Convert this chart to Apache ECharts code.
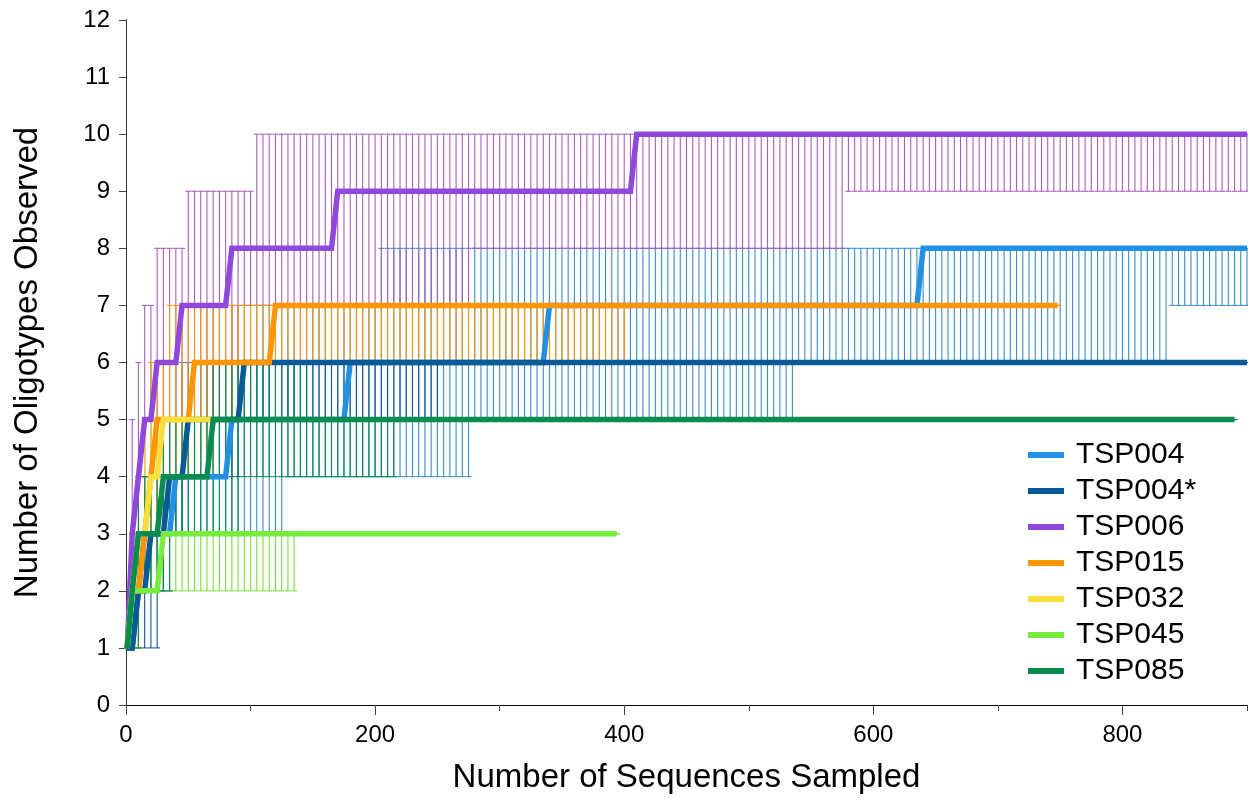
<!DOCTYPE html>
<html><head><meta charset="utf-8">
<script src="https://cdn.jsdelivr.net/npm/echarts@6/dist/echarts.min.js"></script>
<style>html,body{margin:0;padding:0;background:#fff}#c{width:1248px;height:805px}</style>
</head><body><div id="c"></div>
<script>
// Number of sequences sampled at each rarefaction step
const sampleX = [1,
5,10,15,20,25,30,35,40,45,50,55,60,65,70,75,80,85,90,95,100,
105,110,115,120,125,130,135,140,145,150,155,160,165,170,175,180,185,190,195,200,
205,210,215,220,225,230,235,240,245,250,255,260,265,270,275,280,285,290,295,300,
305,310,315,320,325,330,335,340,345,350,355,360,365,370,375,380,385,390,395,400,
405,410,415,420,425,430,435,440,445,450,455,460,465,470,475,480,485,490,495,500,
505,510,515,520,525,530,535,540,545,550,555,560,565,570,575,580,585,590,595,600,
605,610,615,620,625,630,635,640,645,650,655,660,665,670,675,680,685,690,695,700,
705,710,715,720,725,730,735,740,745,750,755,760,765,770,775,780,785,790,795,800,
805,810,815,820,825,830,835,840,845,850,855,860,865,870,875,880,885,890,895,900];

const seriesNames = ['TSP004','TSP004*','TSP006','TSP015','TSP032','TSP045','TSP085'];
const xTicks = [0,200,400,600,800];
const yTicks = [0,1,2,3,4,5,6,7,8,9,10,11,12];

// TSP004
const tsp004Mean = [1,
1,2,3,3,3,3,3,4,4,4,4,4,4,4,4,4,5,5,5,5,
5,5,5,5,5,5,5,5,5,5,5,5,5,5,5,6,6,6,6,6,
6,6,6,6,6,6,6,6,6,6,6,6,6,6,6,6,6,6,6,6,
6,6,6,6,6,6,6,7,7,7,7,7,7,7,7,7,7,7,7,7,
7,7,7,7,7,7,7,7,7,7,7,7,7,7,7,7,7,7,7,7,
7,7,7,7,7,7,7,7,7,7,7,7,7,7,7,7,7,7,7,7,
7,7,7,7,7,7,7,8,8,8,8,8,8,8,8,8,8,8,8,8,
8,8,8,8,8,8,8,8,8,8,8,8,8,8,8,8,8,8,8,8,
8,8,8,8,8,8,8,8,8,8,8,8,8,8,8,8,8,8,8,8];
const tsp004Lo = [1,
1,1,2,2,2,2,2,3,3,3,3,3,3,3,3,3,3,3,3,3,
3,3,3,3,3,4,4,4,4,4,4,4,4,4,4,4,4,4,4,4,
4,4,4,4,4,4,4,4,4,4,4,4,4,4,4,5,5,5,5,5,
5,5,5,5,5,5,5,5,5,5,5,5,5,5,5,5,5,5,5,5,
5,5,5,5,5,5,5,5,5,5,5,5,5,5,5,5,5,5,5,5,
5,5,5,5,5,5,5,6,6,6,6,6,6,6,6,6,6,6,6,6,
6,6,6,6,6,6,6,6,6,6,6,6,6,6,6,6,6,6,6,6,
6,6,6,6,6,6,6,6,6,6,6,6,6,6,6,6,6,6,6,6,
6,6,6,6,6,6,6,7,7,7,7,7,7,7,7,7,7,7,7,7];
const tsp004Hi = [1,
2,3,4,4,5,5,5,6,6,6,6,6,6,6,6,6,7,7,7,7,
7,7,7,7,7,7,7,7,7,7,7,7,7,7,7,7,7,7,7,7,
8,8,8,8,8,8,8,8,8,8,8,8,8,8,8,8,8,8,8,8,
8,8,8,8,8,8,8,8,8,8,8,8,8,8,8,8,8,8,8,8,
8,8,8,8,8,8,8,8,8,8,8,8,8,8,8,8,8,8,8,8,
8,8,8,8,8,8,8,8,8,8,8,8,8,8,8,8,8,8,8,8,
8,8,8,8,8,8,8,8,8,8,8,8,8,8,8,8,8,8,8,8,
8,8,8,8,8,8,8,8,8,8,8,8,8,8,8,8,8,8,8,8,
8,8,8,8,8,8,8,8,8,8,8,8,8,8,8,8,8,8,8,8];

// TSP004*
const tsp004sMean = [1,
1,2,2,3,3,3,4,4,4,5,5,5,5,5,5,5,5,5,6,6,
6,6,6,6,6,6,6,6,6,6,6,6,6,6,6,6,6,6,6,6,
6,6,6,6,6,6,6,6,6,6,6,6,6,6,6,6,6,6,6,6,
6,6,6,6,6,6,6,6,6,6,6,6,6,6,6,6,6,6,6,6,
6,6,6,6,6,6,6,6,6,6,6,6,6,6,6,6,6,6,6,6,
6,6,6,6,6,6,6,6,6,6,6,6,6,6,6,6,6,6,6,6,
6,6,6,6,6,6,6,6,6,6,6,6,6,6,6,6,6,6,6,6,
6,6,6,6,6,6,6,6,6,6,6,6,6,6,6,6,6,6,6,6,
6,6,6,6,6,6,6,6,6,6,6,6,6,6,6,6,6,6,6,6];
const tsp004sLo = [1,
1,1,1,1,1,2,3,3,3,4,4,4,4,4,4,4,4,4,5,5,
5,5,5,5,5,5,5,5,5,5,5,5,5,5,5,5,5,5,5,5,
5,5,5,5,5,5,5,5,5,5,6,6,6,6,6,6,6,6,6,6,
6,6,6,6,6,6,6,6,6,6,6,6,6,6,6,6,6,6,6,6,
6,6,6,6,6,6,6,6,6,6,6,6,6,6,6,6,6,6,6,6,
6,6,6,6,6,6,6,6,6,6,6,6,6,6,6,6,6,6,6,6,
6,6,6,6,6,6,6,6,6,6,6,6,6,6,6,6,6,6,6,6,
6,6,6,6,6,6,6,6,6,6,6,6,6,6,6,6,6,6,6,6,
6,6,6,6,6,6,6,6,6,6,6,6,6,6,6,6,6,6,6,6];
const tsp004sHi = [1,
2,3,4,4,4,4,5,5,5,6,6,6,6,6,6,6,6,6,6,6,
6,6,6,6,6,6,6,6,6,6,6,6,6,6,6,6,6,6,6,6,
6,6,6,6,6,6,6,6,6,6,6,6,6,6,6,6,6,6,6,6,
6,6,6,6,6,6,6,6,6,6,6,6,6,6,6,6,6,6,6,6,
6,6,6,6,6,6,6,6,6,6,6,6,6,6,6,6,6,6,6,6,
6,6,6,6,6,6,6,6,6,6,6,6,6,6,6,6,6,6,6,6,
6,6,6,6,6,6,6,6,6,6,6,6,6,6,6,6,6,6,6,6,
6,6,6,6,6,6,6,6,6,6,6,6,6,6,6,6,6,6,6,6,
6,6,6,6,6,6,6,6,6,6,6,6,6,6,6,6,6,6,6,6];

// TSP006
const tsp006Mean = [1,
3,4,5,5,6,6,6,6,7,7,7,7,7,7,7,7,8,8,8,8,
8,8,8,8,8,8,8,8,8,8,8,8,8,9,9,9,9,9,9,9,
9,9,9,9,9,9,9,9,9,9,9,9,9,9,9,9,9,9,9,9,
9,9,9,9,9,9,9,9,9,9,9,9,9,9,9,9,9,9,9,9,
9,10,10,10,10,10,10,10,10,10,10,10,10,10,10,10,10,10,10,10,
10,10,10,10,10,10,10,10,10,10,10,10,10,10,10,10,10,10,10,10,
10,10,10,10,10,10,10,10,10,10,10,10,10,10,10,10,10,10,10,10,
10,10,10,10,10,10,10,10,10,10,10,10,10,10,10,10,10,10,10,10,
10,10,10,10,10,10,10,10,10,10,10,10,10,10,10,10,10,10,10,10];
const tsp006Lo = [1,
2,3,4,4,5,5,5,5,5,6,6,6,6,6,6,6,6,6,7,7,
7,7,7,7,7,7,7,7,7,7,7,7,7,7,7,7,7,7,7,7,
7,7,7,7,7,7,7,7,7,7,7,7,7,7,7,8,8,8,8,8,
8,8,8,8,8,8,8,8,8,8,8,8,8,8,8,8,8,8,8,8,
8,8,8,8,8,8,8,8,8,8,8,8,8,8,8,8,8,8,8,8,
8,8,8,8,8,8,8,8,8,8,8,8,8,8,8,9,9,9,9,9,
9,9,9,9,9,9,9,9,9,9,9,9,9,9,9,9,9,9,9,9,
9,9,9,9,9,9,9,9,9,9,9,9,9,9,9,9,9,9,9,9,
9,9,9,9,9,9,9,9,9,9,9,9,9,9,9,9,9,9,9,9];
const tsp006Hi = [1,
5,6,7,7,8,8,8,8,8,9,9,9,9,9,9,9,9,9,9,9,
10,10,10,10,10,10,10,10,10,10,10,10,10,10,10,10,10,10,10,10,
10,10,10,10,10,10,10,10,10,10,10,10,10,10,10,10,10,10,10,10,
10,10,10,10,10,10,10,10,10,10,10,10,10,10,10,10,10,10,10,10,
10,10,10,10,10,10,10,10,10,10,10,10,10,10,10,10,10,10,10,10,
10,10,10,10,10,10,10,10,10,10,10,10,10,10,10,10,10,10,10,10,
10,10,10,10,10,10,10,10,10,10,10,10,10,10,10,10,10,10,10,10,
10,10,10,10,10,10,10,10,10,10,10,10,10,10,10,10,10,10,10,10,
10,10,10,10,10,10,10,10,10,10,10,10,10,10,10,10,10,10,10,10];

// TSP015 (last value is at the sample's full depth)
const tsp015Depth = 748;
const tsp015Mean = [1,
2,2,3,4,5,5,5,5,5,5,6,6,6,6,6,6,6,6,6,6,
6,6,6,7,7,7,7,7,7,7,7,7,7,7,7,7,7,7,7,7,
7,7,7,7,7,7,7,7,7,7,7,7,7,7,7,7,7,7,7,7,
7,7,7,7,7,7,7,7,7,7,7,7,7,7,7,7,7,7,7,7,
7,7,7,7,7,7,7,7,7,7,7,7,7,7,7,7,7,7,7,7,
7,7,7,7,7,7,7,7,7,7,7,7,7,7,7,7,7,7,7,7,
7,7,7,7,7,7,7,7,7,7,7,7,7,7,7,7,7,7,7,7,
7,7,7,7,7,7,7,7,7,7];
const tsp015Lo = [1,
1,1,2,3,3,3,4,4,4,4,5,5,5,5,5,5,5,6,6,6,
6,6,6,6,6,6,6,6,6,6,6,6,6,6,6,6,6,6,6,6,
6,6,6,6,6,6,6,6,6,6,6,6,6,6,6,6,6,6,6,6,
6,6,6,6,6,6,6,6,6,6,6,6,6,6,6,6,6,6,6,6,
7,7,7,7,7,7,7,7,7,7,7,7,7,7,7,7,7,7,7,7,
7,7,7,7,7,7,7,7,7,7,7,7,7,7,7,7,7,7,7,7,
7,7,7,7,7,7,7,7,7,7,7,7,7,7,7,7,7,7,7,7,
7,7,7,7,7,7,7,7,7,7];
const tsp015Hi = [1,
3,4,5,6,6,6,7,7,7,7,7,7,7,7,7,7,7,7,7,7,
7,7,7,7,7,7,7,7,7,7,7,7,7,7,7,7,7,7,7,7,
7,7,7,7,7,7,7,7,7,7,7,7,7,7,7,7,7,7,7,7,
7,7,7,7,7,7,7,7,7,7,7,7,7,7,7,7,7,7,7,7,
7,7,7,7,7,7,7,7,7,7,7,7,7,7,7,7,7,7,7,7,
7,7,7,7,7,7,7,7,7,7,7,7,7,7,7,7,7,7,7,7,
7,7,7,7,7,7,7,7,7,7,7,7,7,7,7,7,7,7,7,7,
7,7,7,7,7,7,7,7,7,7];

// TSP032
const tsp032Mean = [1,2,3,3,4,4,5,5,5,5,5,5,5,5,5];
const tsp032Lo   = [1,1,2,2,3,3,4,4,4,4,4,4,4,4,4];
const tsp032Hi   = [1,3,4,5,5,5,5,5,5,5,5,5,5,5,5];

// TSP045 (last value is at the sample's full depth)
const tsp045Depth = 394;
const tsp045Mean = [1,
2,2,2,2,2,3,3,3,3,3,3,3,3,3,3,3,3,3,3,3,
3,3,3,3,3,3,3,3,3,3,3,3,3,3,3,3,3,3,3,3,
3,3,3,3,3,3,3,3,3,3,3,3,3,3,3,3,3,3,3,3,
3,3,3,3,3,3,3,3,3,3,3,3,3,3,3,3,3,3,3];
const tsp045Lo = [1,
1,1,2,2,2,2,2,2,2,2,2,2,2,2,2,2,2,2,2,2,
2,2,2,2,2,2,2,3,3,3,3,3,3,3,3,3,3,3,3,3,
3,3,3,3,3,3,3,3,3,3,3,3,3,3,3,3,3,3,3,3,
3,3,3,3,3,3,3,3,3,3,3,3,3,3,3,3,3,3,3];
const tsp045Hi = [1,
2,3,3,3,3,3,3,3,3,3,3,3,3,3,3,3,3,3,3,3,
3,3,3,3,3,3,3,3,3,3,3,3,3,3,3,3,3,3,3,3,
3,3,3,3,3,3,3,3,3,3,3,3,3,3,3,3,3,3,3,3,
3,3,3,3,3,3,3,3,3,3,3,3,3,3,3,3,3,3,3];

// TSP085
const tsp085Mean = [1,
2,3,3,3,3,4,4,4,4,4,4,4,4,5,5,5,5,5,5,5,
5,5,5,5,5,5,5,5,5,5,5,5,5,5,5,5,5,5,5,5,
5,5,5,5,5,5,5,5,5,5,5,5,5,5,5,5,5,5,5,5,
5,5,5,5,5,5,5,5,5,5,5,5,5,5,5,5,5,5,5,5,
5,5,5,5,5,5,5,5,5,5,5,5,5,5,5,5,5,5,5,5,
5,5,5,5,5,5,5,5,5,5,5,5,5,5,5,5,5,5,5,5,
5,5,5,5,5,5,5,5,5,5,5,5,5,5,5,5,5,5,5,5,
5,5,5,5,5,5,5,5,5,5,5,5,5,5,5,5,5,5,5,5,
5,5,5,5,5,5,5,5,5,5,5,5,5,5,5,5,5,5];
const tsp085Lo = [1,
1,1,2,2,2,2,2,3,3,3,3,3,3,3,3,3,3,3,4,4,
4,4,4,4,4,4,4,4,4,4,4,4,4,4,4,4,4,4,4,4,
4,4,4,5,5,5,5,5,5,5,5,5,5,5,5,5,5,5,5,5,
5,5,5,5,5,5,5,5,5,5,5,5,5,5,5,5,5,5,5,5,
5,5,5,5,5,5,5,5,5,5,5,5,5,5,5,5,5,5,5,5,
5,5,5,5,5,5,5,5,5,5,5,5,5,5,5,5,5,5,5,5,
5,5,5,5,5,5,5,5,5,5,5,5,5,5,5,5,5,5,5,5,
5,5,5,5,5,5,5,5,5,5,5,5,5,5,5,5,5,5,5,5,
5,5,5,5,5,5,5,5,5,5,5,5,5,5,5,5,5,5];
const tsp085Hi = [1,
3,4,4,4,4,5,5,5,5,5,5,5,5,6,6,6,6,6,6,6,
6,6,6,6,6,6,6,6,6,5,5,5,5,5,5,5,5,5,5,5,
5,5,5,5,5,5,5,5,5,5,5,5,5,5,5,5,5,5,5,5,
5,5,5,5,5,5,5,5,5,5,5,5,5,5,5,5,5,5,5,5,
5,5,5,5,5,5,5,5,5,5,5,5,5,5,5,5,5,5,5,5,
5,5,5,5,5,5,5,5,5,5,5,5,5,5,5,5,5,5,5,5,
5,5,5,5,5,5,5,5,5,5,5,5,5,5,5,5,5,5,5,5,
5,5,5,5,5,5,5,5,5,5,5,5,5,5,5,5,5,5,5,5,
5,5,5,5,5,5,5,5,5,5,5,5,5,5,5,5,5,5];

const lineColors = ['#2290e6','#0b5a98','#8f47dc','#ff9500','#f8df3c','#78ec3c','#0a8c4e'];
const barColors  = ['#3a8cc9','#145497','#a95ebf','#ff9800','#f2d63a','#78e03a','#058a4e'];

const groups = [
  {mean: tsp004Mean,  lo: tsp004Lo,  hi: tsp004Hi,  depth: null},
  {mean: tsp004sMean, lo: tsp004sLo, hi: tsp004sHi, depth: null},
  {mean: tsp006Mean,  lo: tsp006Lo,  hi: tsp006Hi,  depth: null},
  {mean: tsp015Mean,  lo: tsp015Lo,  hi: tsp015Hi,  depth: tsp015Depth},
  {mean: tsp032Mean,  lo: tsp032Lo,  hi: tsp032Hi,  depth: null},
  {mean: tsp045Mean,  lo: tsp045Lo,  hi: tsp045Hi,  depth: tsp045Depth},
  {mean: tsp085Mean,  lo: tsp085Lo,  hi: tsp085Hi,  depth: null}
];

function xsFor(n, depth) {
  return depth ? sampleX.slice(0, n - 1).concat([depth]) : sampleX.slice(0, n);
}

const FONT = '"Liberation Sans", Arial, Helvetica, sans-serif';
const series = [];
groups.forEach(function (g, k) {
  const xs = xsFor(g.mean.length, g.depth);
  const color = barColors[k];
  series.push({
    name: seriesNames[k] + ' range',
    type: 'custom',
    silent: true,
    animation: false,
    z: 1,
    encode: {x: 0, y: [1, 2]},
    data: xs.map(function (x, i) { return [x, g.lo[i], g.hi[i]]; }),
    renderItem: function (params, api) {
      const x = api.value(0), lo = api.value(1), hi = api.value(2);
      const pLo = api.coord([x, lo]);
      const pHi = api.coord([x, hi]);
      const hw = 3;
      const st = {stroke: color, lineWidth: 1.1, opacity: 1, fill: null};
      return {type: 'group', children: [
        {type: 'line', shape: {x1: pLo[0], y1: pLo[1], x2: pHi[0], y2: pHi[1]}, style: st},
        {type: 'line', shape: {x1: pHi[0] - hw, y1: pHi[1], x2: pHi[0] + hw, y2: pHi[1]}, style: st},
        {type: 'line', shape: {x1: pLo[0] - hw, y1: pLo[1], x2: pLo[0] + hw, y2: pLo[1]}, style: st}
      ]};
    }
  });
});
groups.forEach(function (g, k) {
  const xs = xsFor(g.mean.length, g.depth);
  series.push({
    name: seriesNames[k],
    type: 'line',
    color: lineColors[k],
    symbol: 'none',
    showSymbol: false,
    animation: false,
    z: 3 + k,
    lineStyle: {width: 5.5, color: lineColors[k], join: 'miter'},
    data: xs.map(function (x, i) { return [x, g.mean[i]]; })
  });
});

const chart = echarts.init(document.getElementById('c'), null, {renderer: 'canvas'});
chart.setOption({
  backgroundColor: '#fff',
  animation: false,
  grid: {left: 126, right: 1, top: 20, bottom: 100, containLabel: false},
  legend: {
    data: seriesNames,
    orient: 'vertical',
    left: 1028, top: 440,
    icon: 'rect',
    itemWidth: 36, itemHeight: 6, itemGap: 6,
    padding: 0,
    textStyle: {fontSize: 30, color: '#000', fontFamily: FONT, padding: [0, 0, 0, 7], lineHeight: 30}
  },
  xAxis: [{
    type: 'value', min: xTicks[0], max: 900, interval: 200,
    name: 'Number of Sequences Sampled', nameLocation: 'middle', nameGap: 56,
    nameTextStyle: {fontSize: 33, color: '#000', fontFamily: FONT},
    axisLine: {show: true, onZero: false, lineStyle: {color: '#000', width: 1}},
    axisTick: {show: true, length: 10, lineStyle: {color: '#444'}},
    axisLabel: {fontSize: 24, color: '#000', margin: 18, fontFamily: FONT, showMaxLabel: false,
      formatter: function (v) { return xTicks.indexOf(v) >= 0 ? String(v) : ''; }},
    splitLine: {show: false}
  }, {
    type: 'value', min: 0, max: 900, interval: 100, position: 'bottom', offset: 0,
    axisLine: {show: false}, axisTick: {show: true, length: 6, lineStyle: {color: '#444'}},
    axisLabel: {show: false}, splitLine: {show: false}
  }],
  yAxis: [{
    type: 'value', min: yTicks[0], max: yTicks[yTicks.length - 1], interval: 1,
    name: 'Number of Oligotypes Observed', nameLocation: 'middle', nameGap: 82,
    nameTextStyle: {fontSize: 33, color: '#000', fontFamily: FONT},
    axisLine: {show: true, lineStyle: {color: '#000', width: 1}},
    axisTick: {show: true, length: 7, lineStyle: {color: '#444'}},
    axisLabel: {fontSize: 24, color: '#000', margin: 16, fontFamily: FONT},
    splitLine: {show: false}
  }, {
    type: 'value', min: 0, max: 12, position: 'right',
    axisLine: {show: true, lineStyle: {color: '#333', width: 1}},
    axisTick: {show: false}, axisLabel: {show: false}, splitLine: {show: false}
  }],
  series: series
});
</script>
</body></html>
